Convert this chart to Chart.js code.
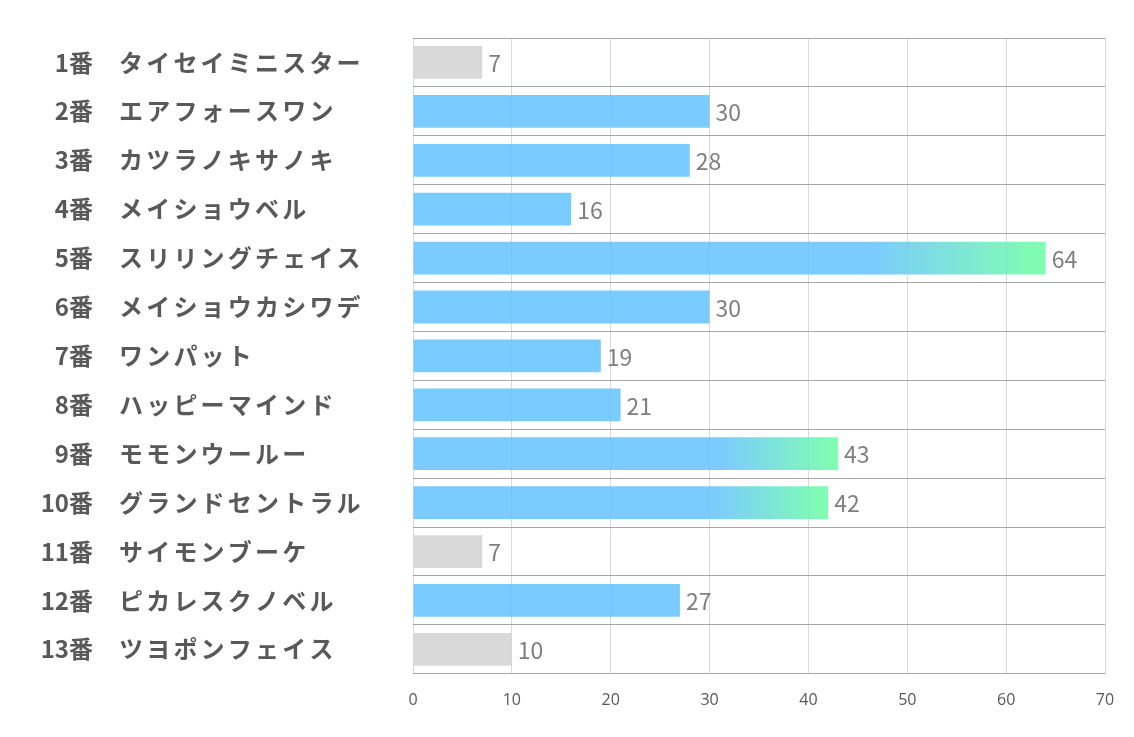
<!DOCTYPE html>
<html lang="ja">
<head>
  <meta charset="UTF-8" />
  <title>出走馬チャート</title>
  <script src="https://cdn.jsdelivr.net/npm/chart.js"></script>
  <style>
    body {
      margin: 0;
      padding: 0;
      background: #fff;
    }
    .wrap {
      width: 1134px;
      height: 737px;
      position: relative;
    }
  </style>
</head>
<body>
  <div class="wrap">
    <canvas id="chart"></canvas>
  </div>

  <script>
    // データ
    const horseNumbers = ["1番", "2番", "3番", "4番", "5番", "6番", "7番", "8番", "9番", "10番", "11番", "12番", "13番"];
    const horseNames = ["タイセイミニスター", "エアフォースワン", "カツラノキサノキ", "メイショウベル", "スリリングチェイス",
      "メイショウカシワデ", "ワンパット", "ハッピーマインド", "モモンウールー", "グランドセントラル",
      "サイモンブーケ", "ピカレスクノベル", "ツヨポンフェイス"];
    const scores = [7, 30, 28, 16, 64, 30, 19, 21, 43, 42, 7, 27, 10];
    const axisMin = 0;
    const axisMax = 70;
    const axisStep = 10;

    const JP_FONT = "'Noto Sans CJK JP', 'Noto Sans', sans-serif";

    // 色: 低い値は灰色、高い値はグラデーション
    function barColor(context) {
      const v = scores[context.dataIndex];
      if (v <= 10) return "rgba(210,210,210,0.85)";
      const chart = context.chart;
      if (v < 40 || !chart.chartArea) return "rgba(99,194,255,0.85)";
      const x = chart.scales.x;
      const x0 = x.getPixelForValue(0);
      const x1 = x.getPixelForValue(v);
      const g = chart.ctx.createLinearGradient(x0, 0, x1, 0);
      g.addColorStop(0, "rgba(99,194,255,0.85)");
      g.addColorStop(0.72, "rgba(99,194,255,0.85)");
      g.addColorStop(1, "rgba(106,255,162,0.85)");
      return g;
    }

    // 左側の馬番・馬名と、バーの値ラベル
    const labelPlugin = {
      id: "labels",
      afterDatasetsDraw(chart) {
        const ctx = chart.ctx;
        const yScale = chart.scales.y;
        const meta = chart.getDatasetMeta(0);
        ctx.save();
        ctx.textBaseline = "middle";
        horseNumbers.forEach((num, i) => {
          const y = yScale.getPixelForValue(i);
          ctx.fillStyle = "#595959";
          ctx.font = "bold 24px " + JP_FONT;
          ctx.letterSpacing = "0px";
          ctx.textAlign = "right";
          ctx.fillText(num, 93, y);
          ctx.textAlign = "left";
          ctx.letterSpacing = "3.2px";
          ctx.fillText(horseNames[i], 119, y);

          const bar = meta.data[i];
          ctx.letterSpacing = "0px";
          ctx.font = "23px " + JP_FONT;
          ctx.fillStyle = "#7f7f7f";
          ctx.fillText(String(scores[i]), bar.x + 6, y + 1);
        });
        ctx.restore();
      }
    };

    new Chart(document.getElementById("chart"), {
      type: "bar",
      data: {
        labels: horseNumbers.map((n, i) => n + " " + horseNames[i]),
        datasets: [{
          data: scores,
          backgroundColor: barColor,
          barPercentage: 0.67,
          categoryPercentage: 1
        }]
      },
      options: {
        indexAxis: "y",
        responsive: true,
        maintainAspectRatio: false,
        animation: false,
        layout: {
          padding: { left: 413, right: 29, top: 38, bottom: 10 }
        },
        plugins: {
          legend: { display: false },
          tooltip: { enabled: false }
        },
        scales: {
          x: {
            min: axisMin,
            max: axisMax,
            ticks: {
              stepSize: axisStep,
              color: "#595959",
              padding: 17,
              font: { size: 16, family: "'Open Sans', sans-serif" }
            },
            grid: { color: "#d9d9d9", drawTicks: false },
            border: { display: false }
          },
          y: {
            ticks: { display: false },
            grid: { color: "#a6a6a6", drawTicks: false, offset: true },
            border: { display: false }
          }
        }
      },
      plugins: [labelPlugin]
    });
  </script>
</body>
</html>
